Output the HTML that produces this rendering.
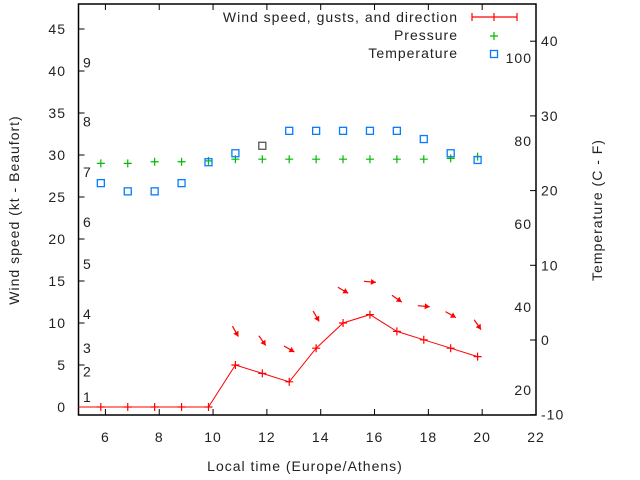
<!DOCTYPE html>
<html><head><meta charset="utf-8"><style>
html,body{margin:0;padding:0;background:#fff}
svg{display:block;font-family:"Liberation Sans",sans-serif;font-size:14px;fill:#222;letter-spacing:1px}
</style></head><body>
<svg id="chart" width="640" height="480" xmlns="http://www.w3.org/2000/svg"></svg>
<script>
const times=[5.83,6.83,7.83,8.83,9.83,10.83,11.83,12.83,13.83,14.83,15.83,16.83,17.83,18.83,19.83];
const wind=[0,0,0,0,0,5,4,3,7,10,11,9,8,7,6];
const pressure=[29,29,29.2,29.2,29.3,29.5,29.5,29.5,29.5,29.5,29.5,29.5,29.5,29.6,29.8];
const tempC=[21,19.9,19.9,21,23.8,25,26,28,28,28,28,28,26.9,25,24.1];
const arrowTimes=[10.83,11.83,12.83,13.83,14.83,15.83,16.83,17.83,18.83,19.83];
const arrowY=[9,7.9,6.9,10.8,13.9,14.9,12.9,12,11,9.8];
const arrowDir=[60,55,30,60,30,5,35,5,30,55];
const xTicks=[6,8,10,12,14,16,18,20,22];
const yTicks=[0,5,10,15,20,25,30,35,40,45];
const y2Ticks=[-10,0,10,20,30,40];
const beaufort=[1,2,3,4,5,6,7,8,9];
const beaufortKt=[1.2,4.2,7,11.1,17,22,28,34,41];
const fahr=[20,40,60,80,100];

const L=78.5,R=536,T=4,B=415;
const X=v=>L+(v-5)/(22-5)*(R-L);
const Y=v=>407-v*8.4;
const Y2=v=>340-v*7.47;
const ns="http://www.w3.org/2000/svg";
const svg=document.getElementById('chart');
function el(tag,attrs,parent){const e=document.createElementNS(ns,tag);for(const k in attrs)e.setAttribute(k,attrs[k]);(parent||svg).appendChild(e);return e;}
function txt(x,y,s,anchor,name){const t=el('text',{x:x,y:y,'text-anchor':anchor||'start'});t.textContent=s;


return t;}

const fr=el('rect',{x:L,y:T,width:R-L,height:B-T,fill:'none',stroke:'#000','stroke-width':1.5});



xTicks.forEach(v=>{
  const x=X(v);
  el('line',{x1:x,y1:B,x2:x,y2:B-6,stroke:'#000'});
  el('line',{x1:x,y1:T,x2:x,y2:T+6,stroke:'#000'});
  txt(x,442,String(v),'middle','x-tick-label');
});
yTicks.forEach(v=>{
  const y=Y(v);
  el('line',{x1:L,y1:y,x2:L+6,y2:y,stroke:'#000'});
  txt(66,y+5,String(v),'end','y-tick-label');
});
y2Ticks.forEach(v=>{
  const y=Y2(v);
  el('line',{x1:R,y1:y,x2:R-6,y2:y,stroke:'#000'});
  txt(541,y+5,String(v),'start','y2-tick-label');
});
beaufort.forEach((b,i)=>txt(83,Y(beaufortKt[i])+5,String(b),'start','beaufort-label'));
fahr.forEach(f=>txt(532,Y2((f-32)*5/9)+5,String(f),'end','fahrenheit-label'));

let t=txt(0,0,'Wind speed (kt - Beaufort)','middle','y-axis-title');
t.setAttribute('transform','translate(19,210) rotate(-90)');
t=txt(0,0,'Temperature (C - F)','middle','y2-axis-title');
t.setAttribute('transform','translate(602,210) rotate(-90)');
txt(305,471,'Local time (Europe/Athens)','middle','x-axis-title');

const pts=times.map((tm,i)=>X(tm)+','+Y(wind[i])).join(' ');
const wl=el('polyline',{points:L+','+Y(wind[0])+' '+pts,fill:'none',stroke:'#f00','stroke-width':1});


times.forEach((tm,i)=>{
  const x=X(tm),y=Y(wind[i]);
  const g=el('path',{d:`M${x-4},${y}h8M${x},${y-4}v8`,stroke:'#f00','stroke-width':1.2});
  
  
});
arrowTimes.forEach((tm,i)=>{
  const a=arrowDir[i]*Math.PI/180, cx=X(tm), cy=Y(arrowY[i]);
  const dx=Math.cos(a)*6, dy=Math.sin(a)*6;
  const x1=cx-dx,y1=cy-dy,x2=cx+dx,y2=cy+dy;
  const hx=Math.cos(a)*5,hy=Math.sin(a)*5,px=-Math.sin(a)*3,py=Math.cos(a)*3;
  const g=el('g',{});
  
  
  el('line',{x1:x1,y1:y1,x2:x2,y2:y2,stroke:'#f00','stroke-width':1.2},g);
  el('polygon',{points:`${x2},${y2} ${x2-hx+px},${y2-hy+py} ${x2-hx-px},${y2-hy-py}`,fill:'#f00'},g);
});
times.forEach((tm,i)=>{
  const x=X(tm),y=Y(pressure[i]);
  const g=el('path',{d:`M${x-4},${y}h8M${x},${y-4}v8`,stroke:'#0b0','stroke-width':1.2});
  
  
});
times.forEach((tm,i)=>{
  const x=X(tm),y=Y2(tempC[i]);
  const r=el('rect',{x:x-3.5,y:y-3.5,width:7,height:7,fill:'none',stroke:i==6?'#555':'#0a7bff','stroke-width':1.3});
  
  
});
txt(458,22,'Wind speed, gusts, and direction','end','legend-wind-label');
txt(458,40,'Pressure','end','legend-pressure-label');
txt(458,58,'Temperature','end','legend-temperature-label');
const lg=el('path',{d:'M472,17h45M472,13v8M494,13v8M517,13v8',stroke:'#f00','stroke-width':1.2});


const lp=el('path',{d:'M490,36h8M494,32v8',stroke:'#0b0','stroke-width':1.2});


const lt=el('rect',{x:490.5,y:50.5,width:7,height:7,fill:'none',stroke:'#0a7bff','stroke-width':1.3});


</script>
</body></html>
